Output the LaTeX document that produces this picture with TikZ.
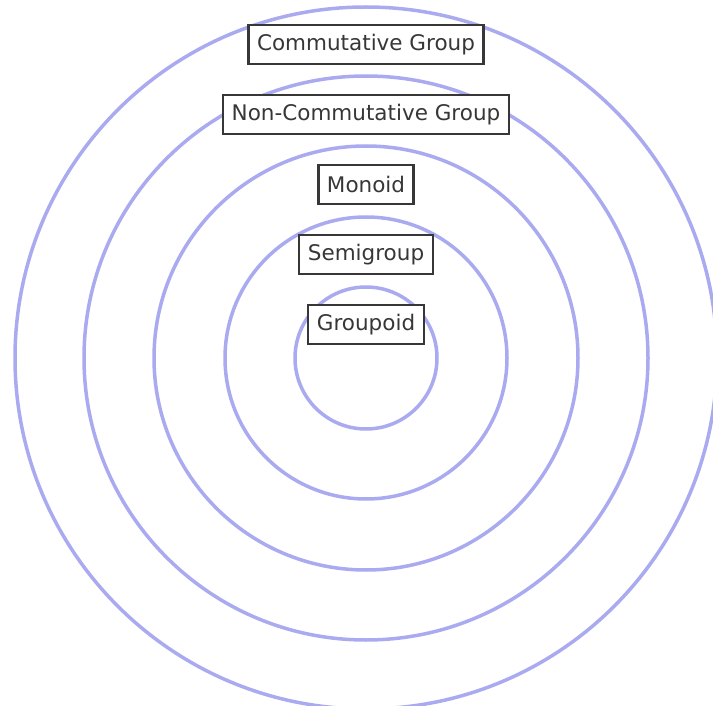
\documentclass[tikz,border=0pt]{standalone}
\usepackage{fontspec}
\setmainfont{DejaVu Sans}
\definecolor{ringcol}{RGB}{170,170,240}
\definecolor{boxcol}{RGB}{55,55,55}
\begin{document}
\begin{tikzpicture}[x=1pt,y=-1pt,
  ring/.style={draw=ringcol,line width=3.5pt},
  lbl/.style={draw=boxcol,line width=2.2pt,fill=white,text=boxcol,font=\fontsize{21.5}{25}\selectfont,inner xsep=8.5pt,minimum height=39pt,inner ysep=0pt}]
\useasboundingbox (0,0) rectangle (713,706);
\clip (0,0) rectangle (713,706);
\coordinate (c) at (366,358);
\draw[ring] (c) circle[radius=71];
\draw[ring] (c) circle[radius=141];
\draw[ring] (c) circle[radius=212];
\draw[ring] (c) circle[radius=282];
\draw[ring] (c) circle[radius=351];
\node[lbl] (cg) at (366,44.5) {Commutative Group};
\node[lbl] (ncg) at (366,114.5) {Non-Commutative Group};
\node[lbl] (mo) at (366,184.5) {Monoid};
\node[lbl] (sg) at (366,254.5) {Semigroup};
\node[lbl] (gp) at (366,324.5) {Groupoid};
\end{tikzpicture}
\end{document}
